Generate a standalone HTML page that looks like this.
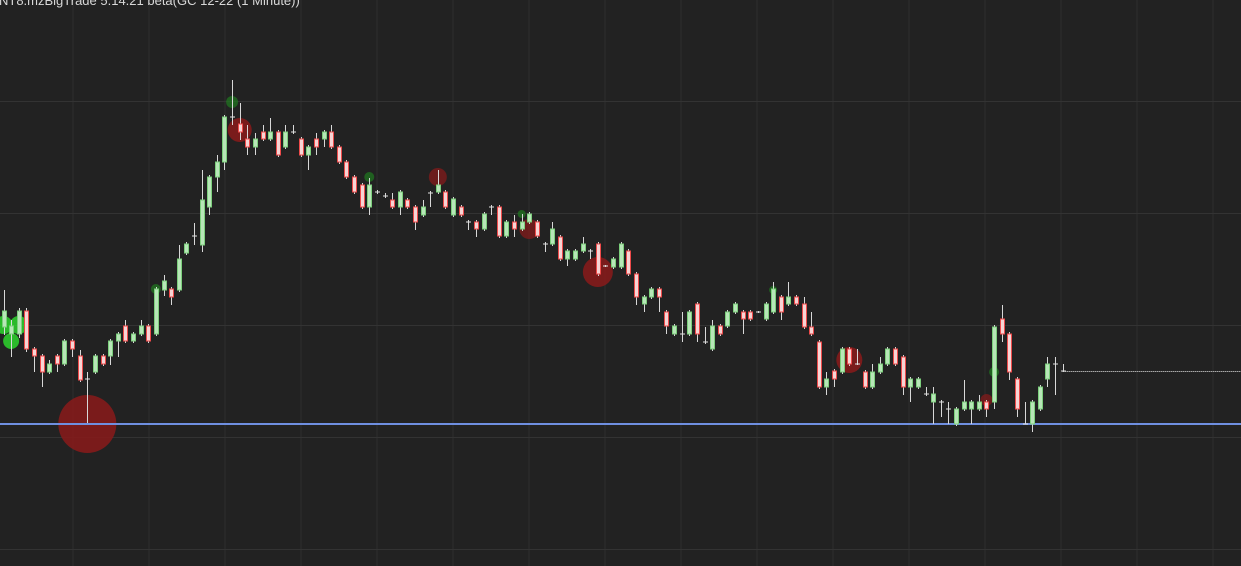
<!DOCTYPE html>
<html><head><meta charset="utf-8">
<style>
html,body{margin:0;padding:0;background:#222222;overflow:hidden;}
#wrap{position:relative;width:1241px;height:566px;background:#222222;}
#title{position:absolute;left:-1px;top:-7px;font:13px "Liberation Sans",sans-serif;color:#d8d8d8;white-space:nowrap;}
svg{position:absolute;left:0;top:0;}
</style></head>
<body>
<div id="wrap">
<svg id="chart" width="1241" height="566"></svg>
<div id="title">NT8.mzBigTrade 5.14.21 beta(GC 12-22 (1 Minute))</div>
</div>
<script>
const opens=[273,266,266,289,251,244,228,244,236,259,244,221,228,244,244,259,274,259,266,274,266,310,311,310,347,364,355,393,423,438,483,476,461,453,468,461,468,453,468,461,445,461,461,468,453,438,423,415,393,408,404,400,393,400,393,385,407,408,408,385,393,378,378,371,393,393,364,378,371,378,378,356,356,363,341,341,349,349,356,334,333,333,349,326,296,303,311,288,266,266,266,296,258,251,274,274,288,288,288,288,281,288,303,296,303,296,273,258,213,229,228,251,236,228,213,228,236,251,243,213,213,206,198,198,191,176,191,191,191,198,198,281,266,221,176,176,191,221,236,229];
const closes=[289,274,289,251,244,228,236,236,259,251,220,221,244,236,259,266,259,266,274,259,311,319,303,341,356,364,400,423,438,483,483,468,453,461,461,468,445,468,468,445,453,453,468,453,438,423,408,393,415,408,404,393,408,393,378,393,407,415,393,401,385,378,371,386,393,364,378,371,378,386,364,356,371,341,349,349,356,349,326,334,341,356,326,303,303,311,303,274,274,266,288,266,258,274,266,288,296,281,281,288,296,311,288,303,296,273,266,213,221,221,251,236,236,213,228,236,251,236,213,221,221,206,206,198,191,191,198,198,198,191,273,266,228,191,176,198,213,236,236,229];
const highs=[310,280,292,292,253,246,240,246,261,261,250,228,246,246,261,268,280,268,280,276,313,325,313,355,358,377,430,425,445,485,520,497,475,467,475,482,470,475,475,463,455,467,470,475,455,440,425,417,422,410,407,407,410,402,395,400,409,430,410,403,395,380,380,388,395,395,380,385,386,388,380,358,378,365,351,351,363,351,358,335,343,358,351,328,305,313,313,290,276,288,290,298,273,280,276,290,298,290,290,289,298,318,305,318,305,303,288,260,228,231,253,253,251,230,236,243,253,253,245,223,223,213,213,200,198,193,220,200,205,200,275,295,268,223,198,200,215,243,243,236];
const lows=[265,243,262,248,228,213,226,228,234,243,218,177,226,234,235,243,257,257,264,257,264,304,295,308,345,355,348,385,408,430,475,460,445,445,459,459,443,451,466,443,430,445,453,451,436,421,406,391,385,406,402,391,385,391,370,383,393,406,391,383,383,370,363,369,385,362,362,363,369,376,362,348,354,339,334,339,347,341,324,333,331,331,324,295,288,301,288,266,264,258,264,258,256,249,264,272,286,266,279,287,279,286,280,294,294,271,264,211,205,213,226,234,235,211,211,226,234,234,205,198,211,204,176,183,176,174,189,176,189,183,191,258,220,183,176,168,189,213,205,228];
const bubbleIdx=[11,78,111,57,31,69,0,1,2,48,68,20,30,101,130,129];
const bubblePrice=[176,328,240,423,470,371,275,259,275,423,386,311,498,310,228,200];
const bubbleSize=[29,15,13,9,12,10,9,8,9,5,4,5,6,4,5,6];
const bubbleSide=["sell","sell","sell","sell","sell","sell","buy","buy","buy","buy","buy","buy","buy","buy","buy","sell"];
const linePrice=176;
const lastPrice=229;
const xGrid=[73,149,225,301,377,453,529,605,681,757,833,909,985,1061,1137,1213];
const yGridPrice=[498,386,274,162,50];

const NS="http://www.w3.org/2000/svg";
const svg=document.getElementById('chart');
const X0=3.5, STEP=7.62;
function xScale(i){return X0+i*STEP;}
function yScale(p){return 600-p;}
function mk(tag,attrs){const e=document.createElementNS(NS,tag);for(const k in attrs)e.setAttribute(k,attrs[k]);svg.appendChild(e);return e;}

xGrid.forEach(function(x){
  const l=mk('line',{x1:x,x2:x,y1:0,y2:566,stroke:'#2f2f2f','stroke-width':1});
  
  
});
yGridPrice.forEach(function(p){
  const y=yScale(p)-0.5;
  const l=mk('line',{x1:0,x2:1241,y1:y,y2:y,stroke:'#333333','stroke-width':1});
  
  
});

bubbleIdx.forEach(function(idx,k){
  const sell=bubbleSide[k]==='sell';
  const big=bubbleSize[k]>=12;
  let fill,op;
  if(sell){fill='#8a1a1a';op=big?0.85:0.7;}
  else{fill=(k>=6&&k<=8)?'#2ee02e':'#1f7a1f';op=(k>=6&&k<=8)?0.8:0.7;}
  const c=mk('circle',{cx:xScale(idx),cy:yScale(bubblePrice[k]),r:bubbleSize[k],fill:fill,opacity:op});
  
  
});

const ly=yScale(linePrice);
const bl=mk('line',{x1:0,x2:1241,y1:ly,y2:ly,stroke:'#6f8fe0','stroke-width':2});



const dy=yScale(lastPrice)+0.5;
const dl=mk('line',{x1:xScale(opens.length-1),x2:1241,y1:dy,y2:dy,stroke:'#e8e8e8','stroke-width':1,'stroke-dasharray':'1,1'});



for(let i=0;i<opens.length;i++){
  const x=Math.round(xScale(i))+0.5;
  const w=mk('line',{x1:x,x2:x,y1:yScale(highs[i]),y2:yScale(lows[i]),stroke:'#d8d8d8','stroke-width':1});
  
  
  const o=opens[i],c=closes[i];
  const top=yScale(Math.max(o,c)),bot=yScale(Math.min(o,c));
  let r;
  if(o===c){
    r=mk('line',{x1:x-2.5,x2:x+2.5,y1:top,y2:top,stroke:'#e0e0e0','stroke-width':1});
  }else if(c>o){
    r=mk('rect',{x:x-2,y:top,width:4,height:bot-top,fill:'#b8e6b8',stroke:'#7ccf7c','stroke-width':1});
  }else{
    r=mk('rect',{x:x-2,y:top,width:4,height:bot-top,fill:'#f6d4d4',stroke:'#ee4a4a','stroke-width':1});
  }
  
  
}
</script>
</body></html>
